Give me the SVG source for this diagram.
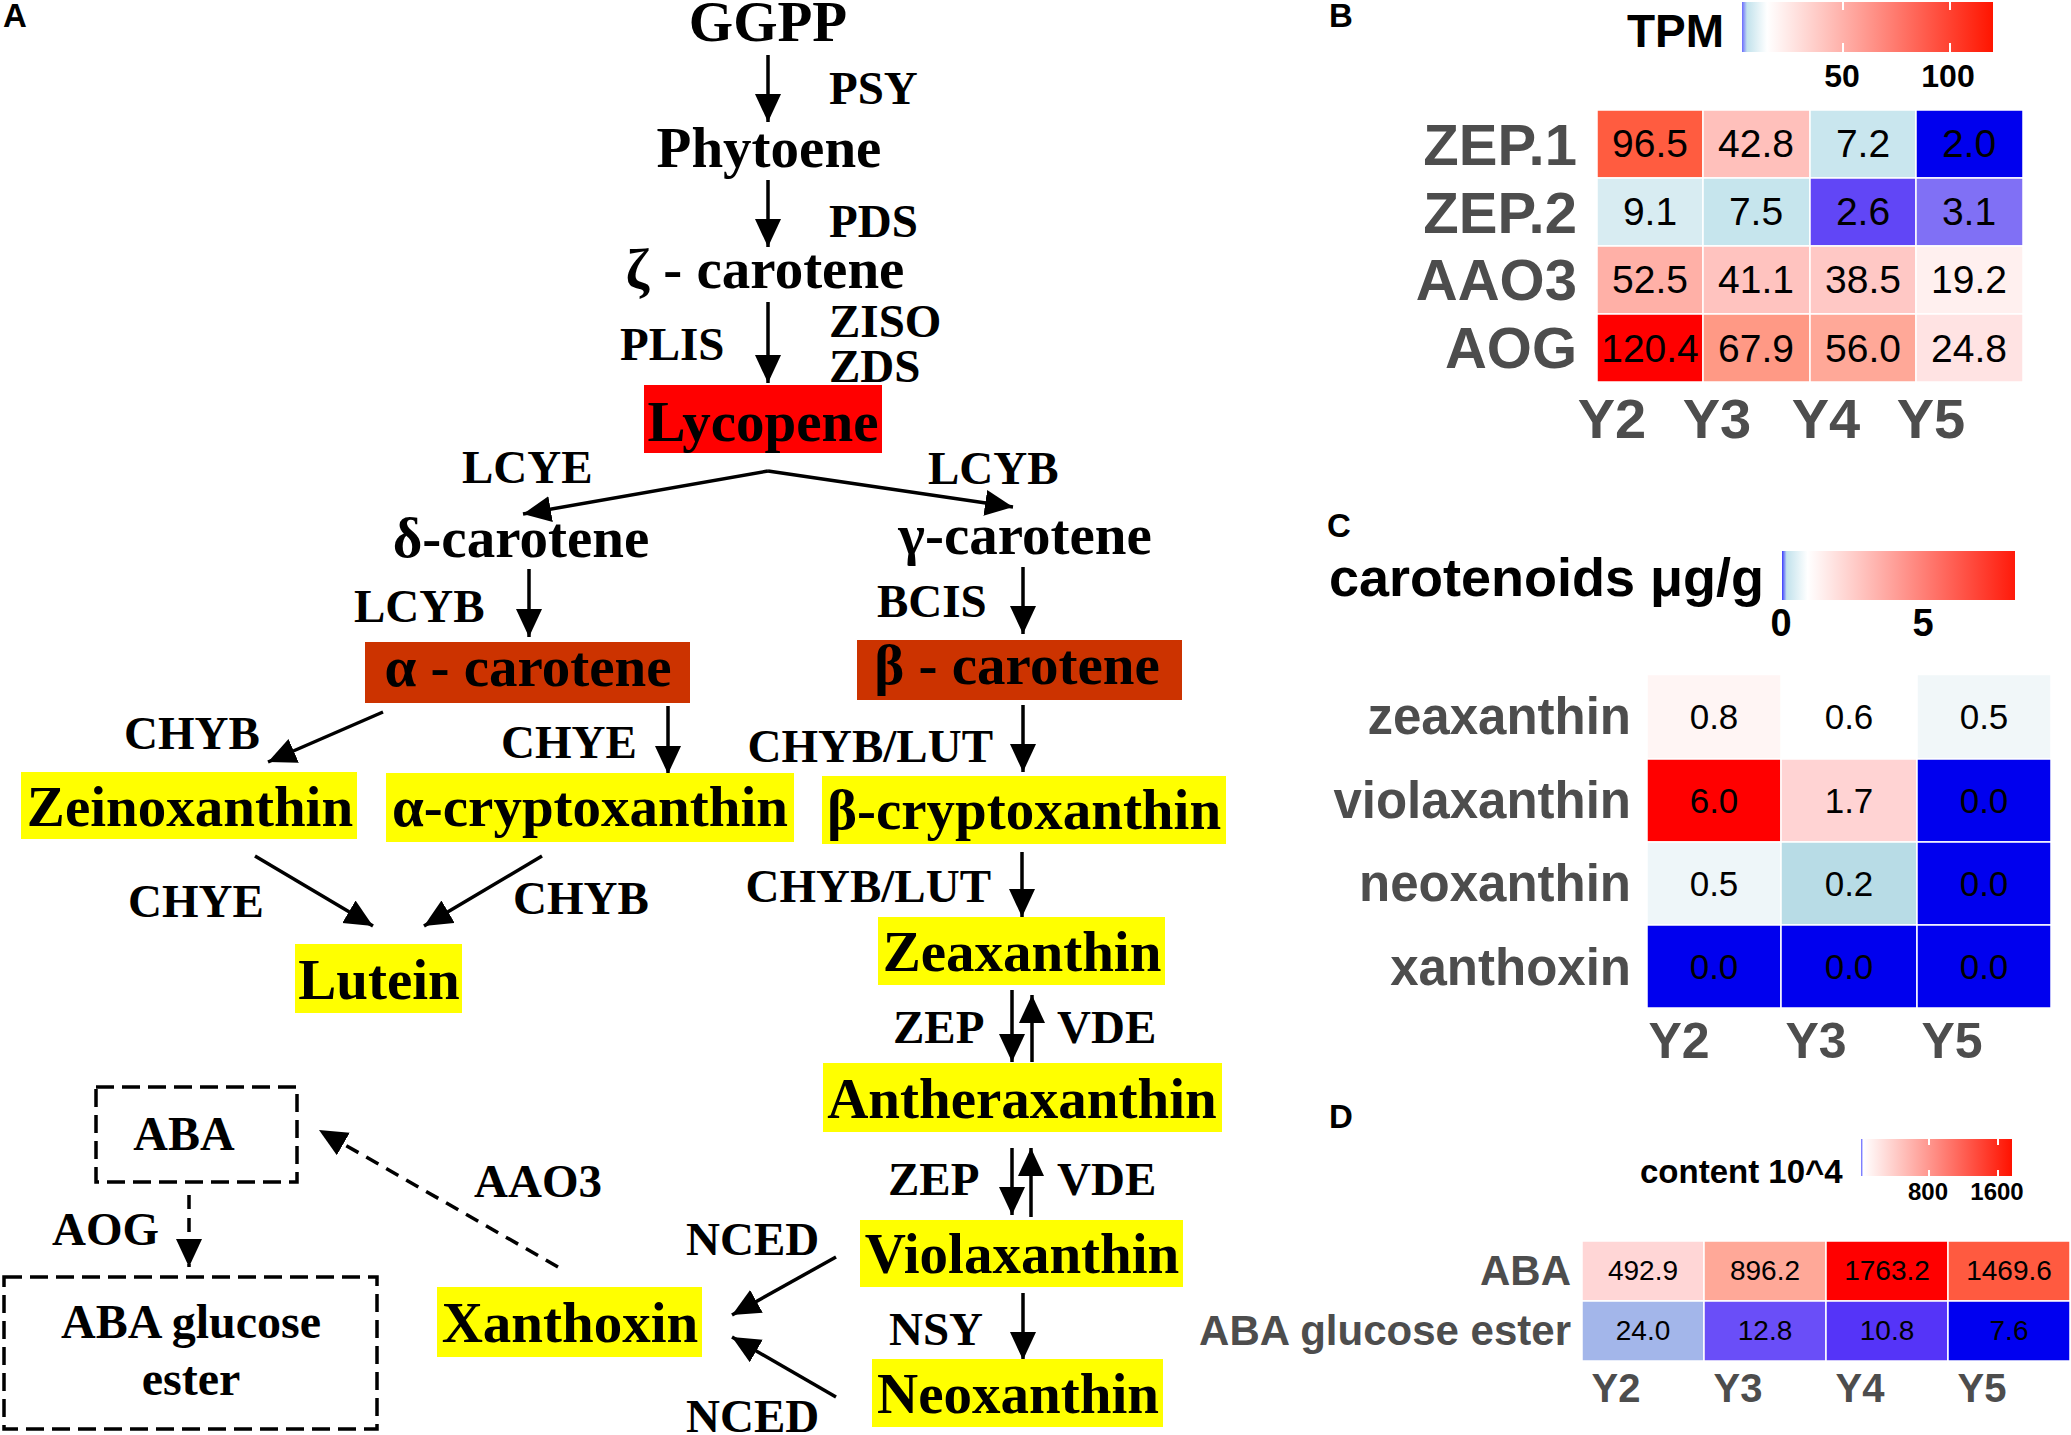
<svg xmlns="http://www.w3.org/2000/svg" width="2071" height="1435" viewBox="0 0 2071 1435">
<defs>
<style>
.n{font-family:"Liberation Serif","Times New Roman",serif;font-weight:bold;font-size:57px;text-anchor:middle;fill:#000}
.e{font-family:"Liberation Serif","Times New Roman",serif;font-weight:bold;font-size:47px;fill:#000}
.pl{font-family:"Liberation Sans",Arial,sans-serif;font-weight:bold;font-size:33px;fill:#000}
.c{stroke:#000;stroke-width:3.5;fill:none;marker-end:url(#ah)}
.d{stroke-dasharray:14 9}
.db{fill:none;stroke:#000;stroke-width:3.5;stroke-dasharray:18 8}
.rl{font-family:"Liberation Sans",Arial,sans-serif;font-weight:bold;fill:#4d4d4d;text-anchor:end}
.yl{font-family:"Liberation Sans",Arial,sans-serif;font-weight:bold;fill:#4d4d4d;text-anchor:middle}
.v{font-family:"Liberation Sans",Arial,sans-serif;fill:#000;text-anchor:middle}
.lg{font-family:"Liberation Sans",Arial,sans-serif;font-weight:bold;fill:#000}
.cell{stroke:#fff;stroke-width:1.5}
.yb{fill:#ffff00}
.ob{fill:#cc3300}
.tk{stroke:#fff;stroke-width:2}
</style>
<marker id="ah" markerUnits="userSpaceOnUse" markerWidth="29" markerHeight="27" refX="28" refY="13" orient="auto"><path d="M0,0 L28,13 L0,26 z" fill="#000"/></marker>
<linearGradient id="gB" x1="0" y1="0" x2="1" y2="0">
<stop offset="0" stop-color="#6a6aff"/><stop offset="0.02" stop-color="#c2e2ec"/><stop offset="0.1" stop-color="#ffffff"/><stop offset="1" stop-color="#ff1500"/>
</linearGradient>
<linearGradient id="gC" x1="0" y1="0" x2="1" y2="0">
<stop offset="0" stop-color="#3a3aff"/><stop offset="0.02" stop-color="#c2e2ec"/><stop offset="0.11" stop-color="#ffffff"/><stop offset="1" stop-color="#ff1a0a"/>
</linearGradient>
<linearGradient id="gD" x1="0" y1="0" x2="1" y2="0">
<stop offset="0" stop-color="#5a5aff"/><stop offset="0.015" stop-color="#ffffff"/><stop offset="1" stop-color="#ff1200"/>
</linearGradient>
</defs>
<rect width="2071" height="1435" fill="#fff"/>

<!-- Panel A -->
<text class="pl" x="3" y="27">A</text>

<g id="connectors">
<line class="c" x1="768" y1="55" x2="768" y2="122"/>
<line class="c" x1="768" y1="180" x2="768" y2="247"/>
<line class="c" x1="768" y1="302" x2="768" y2="383"/>
<line class="c" x1="768" y1="471" x2="523" y2="514"/>
<line class="c" x1="768" y1="471" x2="1013" y2="507"/>
<line class="c" x1="529" y1="569" x2="529" y2="637"/>
<line class="c" x1="1023" y1="567" x2="1023" y2="634"/>
<line class="c" x1="383" y1="712" x2="268" y2="762"/>
<line class="c" x1="668" y1="706" x2="668" y2="774"/>
<line class="c" x1="1023" y1="705" x2="1023" y2="772"/>
<line class="c" x1="1022" y1="852" x2="1022" y2="917"/>
<line class="c" x1="255" y1="856" x2="373" y2="926"/>
<line class="c" x1="542" y1="856" x2="424" y2="926"/>
<line class="c" x1="1012" y1="990" x2="1012" y2="1062"/>
<line class="c" x1="1032" y1="1062" x2="1032" y2="995"/>
<line class="c" x1="1012" y1="1148" x2="1012" y2="1215"/>
<line class="c" x1="1031" y1="1217" x2="1031" y2="1148"/>
<line class="c" x1="1023" y1="1293" x2="1023" y2="1360"/>
<line class="c" x1="836" y1="1257" x2="732" y2="1315"/>
<line class="c" x1="836" y1="1397" x2="732" y2="1337"/>
<line class="c d" x1="558" y1="1267" x2="319" y2="1130"/>
<line class="c d" x1="189" y1="1195" x2="189" y2="1267"/>
</g>

<g id="enzymes">
<text class="e" x="829" y="104">PSY</text>
<text class="e" x="829" y="237">PDS</text>
<text class="e" x="620" y="360">PLIS</text>
<text class="e" x="829" y="337">ZISO</text>
<text class="e" x="829" y="382">ZDS</text>
<text class="e" x="462" y="483">LCYE</text>
<text class="e" x="928" y="484">LCYB</text>
<text class="e" x="354" y="622">LCYB</text>
<text class="e" x="877" y="617">BCIS</text>
<text class="e" x="124" y="749">CHYB</text>
<text class="e" x="501" y="758">CHYE</text>
<text class="e" x="993" y="762" text-anchor="end">CHYB/LUT</text>
<text class="e" x="128" y="917">CHYE</text>
<text class="e" x="513" y="914">CHYB</text>
<text class="e" x="991" y="902" text-anchor="end">CHYB/LUT</text>
<text class="e" x="893" y="1043">ZEP</text>
<text class="e" x="1057" y="1043">VDE</text>
<text class="e" x="888" y="1195">ZEP</text>
<text class="e" x="1057" y="1195">VDE</text>
<text class="e" x="889" y="1345">NSY</text>
<text class="e" x="686" y="1255">NCED</text>
<text class="e" x="686" y="1432">NCED</text>
<text class="e" x="474" y="1197">AAO3</text>
<text class="e" x="52" y="1245">AOG</text>
</g>

<g id="ggpp"><text class="n" x="768" y="41">GGPP</text></g>
<g id="phytoene"><text class="n" x="769" y="167">Phytoene</text></g>
<g id="zeta-carotene"><text class="n" x="765" y="288">ζ - carotene</text></g>
<g id="lycopene"><rect x="644" y="385" width="238" height="68" fill="#ff0000"/><text class="n" x="763" y="441">Lycopene</text></g>
<g id="delta-carotene"><text class="n" x="521" y="557">δ-carotene</text></g>
<g id="gamma-carotene"><text class="n" x="1025" y="554">γ-carotene</text></g>
<g id="alpha-carotene"><rect class="ob" x="365" y="642" width="325" height="61"/><text class="n" x="528" y="686">α - carotene</text></g>
<g id="beta-carotene"><rect class="ob" x="857" y="640" width="325" height="60"/><text class="n" x="1017" y="684">β - carotene</text></g>
<g id="zeinoxanthin"><rect class="yb" x="21" y="772" width="336" height="67"/><text class="n" x="190" y="826">Zeinoxanthin</text></g>
<g id="alpha-cryptoxanthin"><rect class="yb" x="386" y="773" width="408" height="69"/><text class="n" x="590" y="826">α-cryptoxanthin</text></g>
<g id="beta-cryptoxanthin"><rect class="yb" x="822" y="776" width="404" height="68"/><text class="n" x="1024" y="829">β-cryptoxanthin</text></g>
<g id="lutein"><rect class="yb" x="295" y="944" width="167" height="69"/><text class="n" x="379" y="999">Lutein</text></g>
<g id="zeaxanthin"><rect class="yb" x="878" y="917" width="287" height="68"/><text class="n" x="1022" y="971">Zeaxanthin</text></g>
<g id="antheraxanthin"><rect class="yb" x="823" y="1063" width="399" height="69"/><text class="n" x="1022" y="1118">Antheraxanthin</text></g>
<g id="violaxanthin"><rect class="yb" x="860" y="1220" width="323" height="67"/><text class="n" x="1022" y="1273">Violaxanthin</text></g>
<g id="neoxanthin"><rect class="yb" x="872" y="1359" width="291" height="68"/><text class="n" x="1018" y="1413">Neoxanthin</text></g>
<g id="xanthoxin"><rect class="yb" x="437" y="1287" width="265" height="70"/><text class="n" x="570" y="1342">Xanthoxin</text></g>
<g id="aba"><rect class="db" x="96" y="1087" width="201" height="95"/><text class="n" x="184" y="1150" style="font-size:48px">ABA</text></g>
<g id="aba-glucose-ester"><rect class="db" x="4" y="1277" width="373" height="152"/><text class="n" x="191" y="1338" style="font-size:48px">ABA glucose</text><text class="n" x="191" y="1395" style="font-size:48px">ester</text></g>

<!-- Panel B -->
<g id="panelB">
<text class="pl" x="1329" y="27">B</text>
<text class="lg" x="1627" y="47" style="font-size:46px">TPM</text>
<rect x="1742" y="2" width="251" height="50" fill="url(#gB)"/>
<line class="tk" x1="1843" y1="2" x2="1843" y2="10"/><line class="tk" x1="1843" y1="43" x2="1843" y2="52"/>
<line class="tk" x1="1950" y1="2" x2="1950" y2="10"/><line class="tk" x1="1950" y1="43" x2="1950" y2="52"/>
<text class="lg" x="1842" y="87" text-anchor="middle" style="font-size:32px">50</text>
<text class="lg" x="1948" y="87" text-anchor="middle" style="font-size:32px">100</text>
<g class="cell">
<rect x="1597" y="110" width="106" height="68" fill="#ff5c40"/><rect x="1703" y="110" width="107" height="68" fill="#ffc0bb"/><rect x="1810" y="110" width="106" height="68" fill="#c9e6ee"/><rect x="1916" y="110" width="107" height="68" fill="#0000ee"/>
<rect x="1597" y="178" width="106" height="68" fill="#d8ecf2"/><rect x="1703" y="178" width="107" height="68" fill="#c6e5ed"/><rect x="1810" y="178" width="106" height="68" fill="#6146f6"/><rect x="1916" y="178" width="107" height="68" fill="#8070f5"/>
<rect x="1597" y="246" width="106" height="68" fill="#ffb0a7"/><rect x="1703" y="246" width="107" height="68" fill="#ffc3bf"/><rect x="1810" y="246" width="106" height="68" fill="#ffc8c5"/><rect x="1916" y="246" width="107" height="68" fill="#fff0ef"/>
<rect x="1597" y="314" width="106" height="68" fill="#ff0000"/><rect x="1703" y="314" width="107" height="68" fill="#ff9985"/><rect x="1810" y="314" width="106" height="68" fill="#ffa898"/><rect x="1916" y="314" width="107" height="68" fill="#ffe3e3"/>
</g>
<g class="v" style="font-size:39px">
<text x="1650" y="157">96.5</text><text x="1756" y="157">42.8</text><text x="1863" y="157">7.2</text><text x="1969" y="157">2.0</text>
<text x="1650" y="225">9.1</text><text x="1756" y="225">7.5</text><text x="1863" y="225">2.6</text><text x="1969" y="225">3.1</text>
<text x="1650" y="293">52.5</text><text x="1756" y="293">41.1</text><text x="1863" y="293">38.5</text><text x="1969" y="293">19.2</text>
<text x="1650" y="362">120.4</text><text x="1756" y="362">67.9</text><text x="1863" y="362">56.0</text><text x="1969" y="362">24.8</text>
</g>
<g class="rl" style="font-size:58px">
<text x="1577" y="165">ZEP.1</text><text x="1577" y="233">ZEP.2</text><text x="1577" y="300">AAO3</text><text x="1577" y="368">AOG</text>
</g>
<g class="yl" style="font-size:56px">
<text x="1612" y="438">Y2</text><text x="1717" y="438">Y3</text><text x="1826" y="438">Y4</text><text x="1931" y="438">Y5</text>
</g>
</g>

<!-- Panel C -->
<g id="panelC">
<text class="pl" x="1327" y="537">C</text>
<text class="lg" x="1329" y="596" style="font-size:54px">carotenoids μg/g</text>
<rect x="1782" y="551" width="233" height="49" fill="url(#gC)"/>
<text class="lg" x="1781" y="636" text-anchor="middle" style="font-size:38px">0</text>
<text class="lg" x="1923" y="636" text-anchor="middle" style="font-size:38px">5</text>
<g class="cell">
<rect x="1647" y="674.5" width="134" height="84.5" fill="#fff5f4"/><rect x="1781" y="674.5" width="136" height="84.5" fill="#ffffff" stroke="none"/><rect x="1917" y="674.5" width="134" height="84.5" fill="#f1f7f9"/>
<rect x="1647" y="759" width="134" height="83" fill="#ff0000"/><rect x="1781" y="759" width="136" height="83" fill="#ffd3d3"/><rect x="1917" y="759" width="134" height="83" fill="#0000ee"/>
<rect x="1647" y="842" width="134" height="83" fill="#eef6f9"/><rect x="1781" y="842" width="136" height="83" fill="#b8dce6"/><rect x="1917" y="842" width="134" height="83" fill="#0000ee"/>
<rect x="1647" y="925" width="134" height="83" fill="#0000ee"/><rect x="1781" y="925" width="136" height="83" fill="#0000ee"/><rect x="1917" y="925" width="134" height="83" fill="#0000ee"/>
</g>
<g class="v" style="font-size:35px">
<text x="1714" y="729">0.8</text><text x="1849" y="729">0.6</text><text x="1984" y="729">0.5</text>
<text x="1714" y="813">6.0</text><text x="1849" y="813">1.7</text><text x="1984" y="813">0.0</text>
<text x="1714" y="896">0.5</text><text x="1849" y="896">0.2</text><text x="1984" y="896">0.0</text>
<text x="1714" y="979">0.0</text><text x="1849" y="979">0.0</text><text x="1984" y="979">0.0</text>
</g>
<g class="rl" style="font-size:51px">
<text x="1631" y="734">zeaxanthin</text><text x="1631" y="818">violaxanthin</text><text x="1631" y="901">neoxanthin</text><text x="1631" y="985">xanthoxin</text>
</g>
<g class="yl" style="font-size:50px">
<text x="1679" y="1058">Y2</text><text x="1816" y="1058">Y3</text><text x="1952" y="1058">Y5</text>
</g>
</g>

<!-- Panel D -->
<g id="panelD">
<text class="pl" x="1329" y="1128">D</text>
<text class="lg" x="1640" y="1183" style="font-size:33px">content 10^4</text>
<rect x="1861" y="1139" width="151" height="37" fill="url(#gD)"/>
<line class="tk" x1="1929" y1="1139" x2="1929" y2="1145"/><line class="tk" x1="1929" y1="1170" x2="1929" y2="1176"/>
<line class="tk" x1="1998" y1="1139" x2="1998" y2="1145"/><line class="tk" x1="1998" y1="1170" x2="1998" y2="1176"/>
<text class="lg" x="1928" y="1200" text-anchor="middle" style="font-size:24px">800</text>
<text class="lg" x="1997" y="1200" text-anchor="middle" style="font-size:24px">1600</text>
<g class="cell">
<rect x="1582" y="1241" width="122" height="60" fill="#ffd6d6"/><rect x="1704" y="1241" width="122" height="60" fill="#ffa898"/><rect x="1826" y="1241" width="122" height="60" fill="#ff0000"/><rect x="1948" y="1241" width="122" height="60" fill="#ff5a40"/>
<rect x="1582" y="1301" width="122" height="60" fill="#a3b6ea"/><rect x="1704" y="1301" width="122" height="60" fill="#6a4ef8"/><rect x="1826" y="1301" width="122" height="60" fill="#5534f8"/><rect x="1948" y="1301" width="122" height="60" fill="#0000f0"/>
</g>
<g class="v" style="font-size:28px">
<text x="1643" y="1280">492.9</text><text x="1765" y="1280">896.2</text><text x="1887" y="1280">1763.2</text><text x="2009" y="1280">1469.6</text>
<text x="1643" y="1340">24.0</text><text x="1765" y="1340">12.8</text><text x="1887" y="1340">10.8</text><text x="2009" y="1340">7.6</text>
</g>
<g class="rl" style="font-size:42px">
<text x="1571" y="1285">ABA</text><text x="1571" y="1345">ABA glucose ester</text>
</g>
<g class="yl" style="font-size:40px">
<text x="1616" y="1402">Y2</text><text x="1738" y="1402">Y3</text><text x="1860" y="1402">Y4</text><text x="1982" y="1402">Y5</text>
</g>
</g>
</svg>
